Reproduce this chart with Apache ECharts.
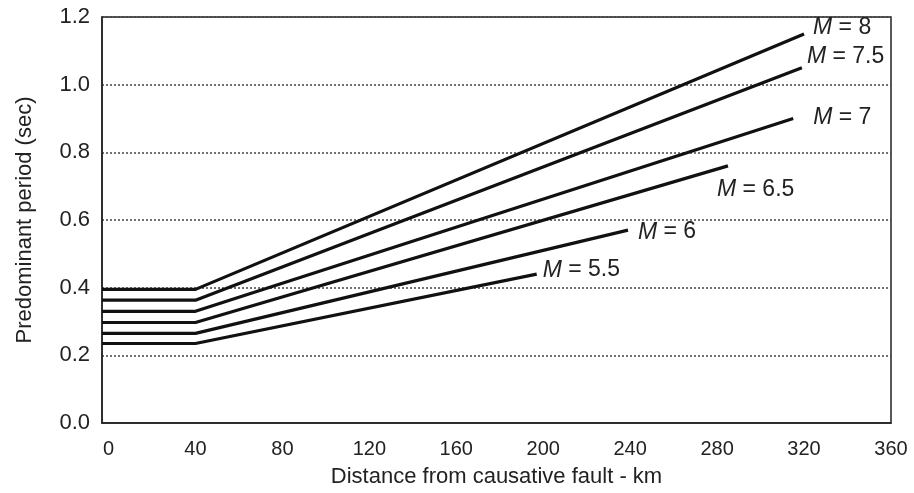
<!DOCTYPE html>
<html>
<head>
<meta charset="utf-8">
<script src="https://cdn.jsdelivr.net/npm/echarts@6/dist/echarts.min.js"></script>
<style>
html,body{margin:0;padding:0;background:#fff;}
#chart{width:914px;height:493px;}
</style>
</head>
<body>
<div id="chart"></div>
<script>
// ---- data ----
const magnitudes = ['8', '7.5', '7', '6.5', '6', '5.5'];
const lineStartDistance = -3;        // lines begin at the left frame
const kneeDistance = 40;             // km, end of the flat part
const startPeriod = [0.395, 0.363, 0.33, 0.297, 0.265, 0.235];
const endDistance = [320, 319, 315, 285, 239, 197];
const endPeriod = [1.15, 1.05, 0.90, 0.76, 0.57, 0.44];
const xTickLabels = [0, 40, 80, 120, 160, 200, 240, 280, 320, 360];
const yTickLabels = [0, 0.2, 0.4, 0.6, 0.8, 1.0, 1.2];

// label placement (style, px offsets from the end of each line)
const labelOffsets = [[4, -6], [0, -11], [15, -1], [-16, 24], [5, 2], [1, -4]];

const FONT = '"Liberation Sans", Arial, Helvetica, sans-serif';

const series = magnitudes.map((m, i) => ({
  type: 'line',
  name: 'M = ' + m,
  symbol: 'none',
  silent: true,
  lineStyle: { color: '#111', width: 3.2 },
  endLabel: {
    show: true,
    distance: 5,
    offset: labelOffsets[i],
    formatter: '{i|M} = ' + m,
    color: '#222',
    fontFamily: FONT,
    fontSize: 23,
    rich: {
      i: { fontStyle: 'italic', fontSize: 23, fontFamily: FONT, color: '#222' }
    }
  },
  data: [
    [lineStartDistance, startPeriod[i]],
    [kneeDistance, startPeriod[i]],
    [endDistance[i], endPeriod[i]]
  ]
}));

const chart = echarts.init(document.getElementById('chart'), null, { renderer: 'canvas' });
chart.setOption({
  animation: false,
  backgroundColor: '#fff',
  grid: {
    left: 102, right: 23, top: 17, bottom: 69,
    show: true, borderColor: '#222', borderWidth: 1.5
  },
  xAxis: {
    type: 'value',
    min: -3,
    max: 360,
    name: 'Distance from causative fault - km',
    nameLocation: 'middle',
    nameGap: 43,
    nameTextStyle: { fontFamily: FONT, fontSize: 22, color: '#222' },
    axisLine: { show: true, onZero: false, lineStyle: { color: '#222', width: 1.5 } },
    axisTick: { show: false },
    splitLine: { show: false },
    axisLabel: {
      customValues: xTickLabels,
      fontFamily: FONT, fontSize: 20, color: '#222', margin: 16
    }
  },
  yAxis: {
    type: 'value',
    min: 0,
    max: 1.2,
    interval: 0.2,
    name: 'Predominant period (sec)',
    nameLocation: 'middle',
    nameGap: 66,
    nameTextStyle: { fontFamily: FONT, fontSize: 22, color: '#222' },
    axisLine: { show: true, onZero: false, lineStyle: { color: '#222', width: 1.5 } },
    axisTick: { show: false },
    splitLine: { show: true, lineStyle: { color: '#444', width: 1.5, type: [2, 2] } },
    axisLabel: {
      customValues: yTickLabels,
      formatter: v => v.toFixed(1),
      fontFamily: FONT, fontSize: 22, color: '#222', margin: 12
    }
  },
  series: series
});
</script>
</body>
</html>
